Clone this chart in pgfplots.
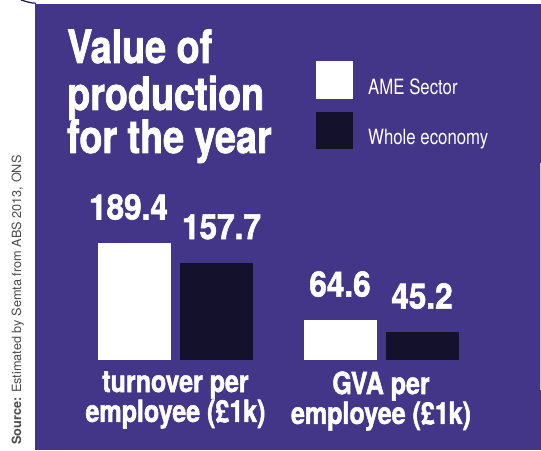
\documentclass[border=0pt]{standalone}
\usepackage{pgfplots}
\pgfplotsset{compat=1.18}
\usepackage{fontspec}
\setmainfont{TeX Gyre Heros}[FakeStretch=0.82, BoldFeatures={FakeBold=1.6}]
\newfontfamily\numfont{TeX Gyre Heros}[FakeStretch=0.9, BoldFeatures={FakeBold=1.6}]
\newfontfamily\legfont{TeX Gyre Heros}[FakeStretch=0.8]
\newfontfamily\srcfont{TeX Gyre Heros}
\definecolor{panel}{HTML}{433689}
\definecolor{darkbar}{HTML}{13112B}
\definecolor{srcgray}{HTML}{4D4D4D}

\begin{document}
\begin{tikzpicture}
  % canvas and panel
  \path[use as bounding box, fill=white] (0pt,0pt) rectangle (541pt,450pt);
  \fill[panel] (35pt,0pt) rectangle (541pt,446pt);
  \draw[darkbar!80!panel, line width=1.2pt] (21pt,450pt) to[out=-15,in=180] (36pt,446.8pt);
  \draw[gray!40, line width=0.8pt] (540.5pt,60pt) -- (540.5pt,287pt);

  % source note
  \node[rotate=90, anchor=base west, inner sep=0pt, text=srcgray,
        font=\srcfont\fontsize{12.7}{13}\selectfont] at (21pt,5pt)
        {\textbf{Source:} Estimated by Semta from ABS 2013, ONS};

  % title
  \begin{scope}[every node/.style={anchor=base west, inner sep=0pt, text=white,
        font=\bfseries\fontsize{46}{46}\selectfont}]
    \node at (67pt,387pt) {Value of};
    \node at (67pt,340pt) {production};
    \node at (67pt,297pt) {for the year};
  \end{scope}

  \begin{axis}[
      at={(52.2pt,90pt)}, anchor=south west,
      scale only axis, width=452.1pt, height=154.4pt,
      xmin=-0.6, xmax=1.6, ymin=0, ymax=250,
      ybar, bar width=73pt,
      axis line style={draw=none},
      major tick style={draw=none},
      ytick=\empty,
      xtick={0,1},
      xticklabels={{turnover per\\employee (£1k)},{GVA per\\employee (£1k)}},
      xticklabel style={font=\bfseries\fontsize{30.5}{27}\selectfont,
        text=white, align=center, anchor=north, inner sep=0pt, yshift=-7pt},
      /pgf/number format/assume math mode=true,
      nodes near coords={\pgfmathprintnumber[fixed,fixed zerofill,precision=1]{\pgfplotspointmeta}},
      every node near coord/.append style={anchor=base, yshift=23.5pt,
        font=\numfont\bfseries\fontsize{35}{35}\selectfont, text=white, inner sep=0pt},
      legend style={at={(0.5835,1.9365)}, anchor=north west, draw=none, fill=none,
        inner sep=0pt, row sep=13pt,
        font=\legfont\fontsize{21}{21}\selectfont, text=white,
        nodes={inner sep=0pt},
        /tikz/every odd column/.append style={column sep=15pt}},
      legend cell align=left,
      legend image code/.code={\fill[#1] (0pt,-11.5pt) rectangle (37pt,26pt);},
    ]
    % turnover per employee
    \addplot[fill=white, draw=none, bar shift=-41pt,
      every node near coord/.append style={xshift=-6pt}] coordinates {(0,189.4)};
    \addplot[fill=darkbar, draw=none, bar shift=41pt,
      every node near coord/.append style={xshift=5pt}] coordinates {(0,157.7)};
    % GVA per employee
    \addplot[fill=white, draw=none, bar shift=-41pt, forget plot] coordinates {(1,64.6)};
    \addplot[fill=darkbar, draw=none, bar shift=41pt, forget plot] coordinates {(1,45.2)};
    \legend{AME Sector, Whole economy}
  \end{axis}
\end{tikzpicture}
\end{document}
